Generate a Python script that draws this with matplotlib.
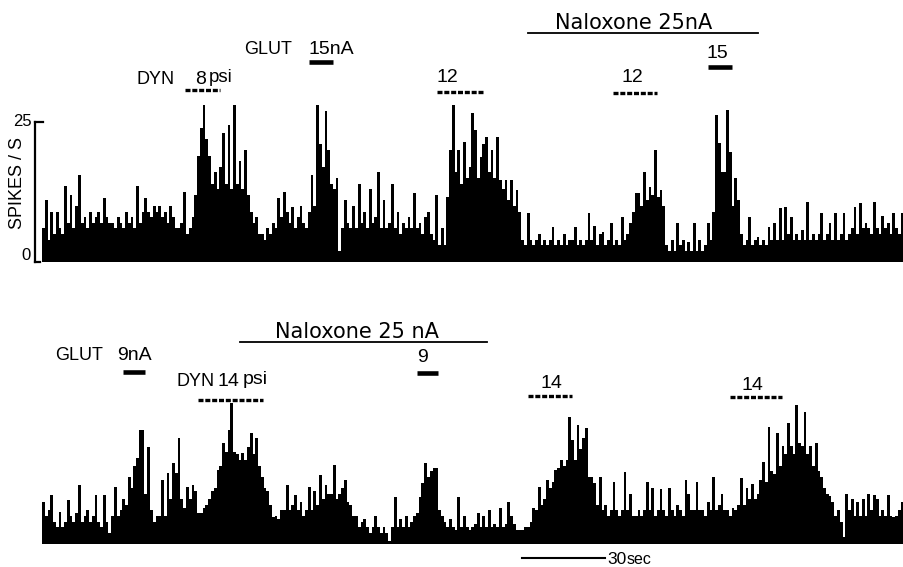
import numpy as np
import matplotlib
matplotlib.use("Agg")
import matplotlib.pyplot as plt

# ---------------- data (spikes/s, 1-s bins) ----------------
top_rate = [
    6, 11, 4, 9, 5, 9, 6,
    5, 13.5, 7, 12, 6, 10, 15.5,
    7, 8, 6, 9, 7, 8, 9, 7, 11.5, 8, 7,
    7, 6, 8, 7, 6, 9, 7, 8, 6, 13.5, 7,
    9, 11.5, 9, 8, 10, 9, 10, 8, 9, 7, 10, 8, 6,
    6, 7, 12.5, 5, 6, 8,
    12, 19, 24, 28, 22, 19, 14, 16,
    13, 17, 23, 14, 24.5, 13, 28, 14, 18,
    13, 20, 12, 9, 7, 8, 5,
    5, 4, 6, 5, 7, 6, 11.5, 8, 12.5, 9, 7, 9.8, 6, 8, 10,
    7, 6, 9, 15.5, 10, 28, 21, 17, 27, 20, 14, 13, 15, 2,
    6, 11, 7, 6, 10, 6, 14, 7, 9, 6, 13, 7, 8, 16, 6,
    11, 6, 7, 14, 6, 9, 5, 7, 6, 8, 6, 12.3, 6, 7, 5, 8, 9, 5,
    4, 12, 3, 6, 3,
    11.6, 20, 28, 16, 20, 14, 21.4, 15, 17, 26.6, 23.6, 15, 18.8, 21, 22.3,
    16, 20, 15, 22.3, 14.6, 13, 14.6, 11, 14.6, 10, 12.9, 9,
    4, 3, 8.7, 4, 3, 4, 5, 3, 4, 3, 4, 6.3, 3, 4, 3, 5, 3, 4, 4, 6.3, 3, 4,
    3, 4, 8.7, 4, 6.5, 3, 5,
    5.4, 3, 4, 7, 3, 4, 3, 8, 4,
    5, 7, 9, 12.3, 12.3, 10, 16, 11, 13.4, 12, 20, 11.6, 12.9, 10, 3,
    2, 4, 2, 7, 3, 4, 2, 3.5, 2, 7, 2, 4, 2, 3,
    7, 4, 9, 26.2, 21.2, 16, 16, 27.1, 19.7, 10, 15, 11, 5, 3,
    4, 8, 3, 4, 4.5, 3, 4, 3, 6.3, 4, 7, 4, 9.6, 4, 9.8, 5, 8, 4, 5, 4,
    5.7, 4, 10.7, 4, 5, 4, 5, 8.7, 4, 5, 7, 4, 8.7, 4, 5, 8.7, 4, 5, 6,
    9.8, 5, 10.5, 6, 7, 6, 5, 10.7, 6, 5, 8.3, 6, 7, 5, 8.7, 6, 5, 8.7,
]

bottom_rate = [
    7.5, 5, 6, 8.8, 4, 3, 5.7, 3,
    4, 7.9, 5, 4, 5.5, 10.5, 4, 5, 6, 4, 5, 8.8, 4, 3,
    8.8, 4, 2, 5, 10.2, 5, 6, 8, 7,
    12, 10, 14, 15.4, 20.4, 20.4, 9, 17.3, 6, 4, 5, 5,
    11.4, 5, 12.7, 8, 14.5, 12.7, 19, 8, 6.5, 10.2, 8, 10.5, 9.5, 5.5,
    5.5, 6.5, 7, 8, 9.5, 10, 13.2, 14, 18, 16.5, 20.4, 25.2, 16.5, 16, 15,
    16.2, 15, 17.3, 19.8, 16, 19, 14, 12, 10,
    9.5, 7, 4.8, 5, 4.5, 6, 6, 10.5, 6, 7, 8.8, 6, 7.5,
    5, 6, 10.2, 6, 9.5, 7, 12.3,
    8, 10.5, 9, 9, 14.1, 8, 9, 10, 11.4, 7.5, 7, 5, 5, 3,
    4, 4.5, 3, 2, 3, 5, 3, 2, 3, 2, 0.5,
    3, 8.4, 3, 4.5, 3, 5, 3, 4, 5, 5.5, 8.4,
    10.9, 14.5, 12, 13, 13.6, 13.6, 6, 5, 4,
    3, 4.5, 3, 2.5, 8.4, 3, 5, 3, 2.5, 3, 3.5, 5.5, 3, 5, 3, 6, 3, 3.5, 3,
    6.5, 3, 3.5, 7.5, 5, 3.5, 2.5, 2.5,
    2.5, 3, 3, 4, 6.5, 6, 10.2, 7, 8, 11.4, 10, 11, 13.2, 13.6, 15, 14, 15,
    22.7, 18.5, 15, 21.3, 17, 19, 20.7, 12,
    12, 10.9, 7, 12, 6, 7, 5, 6, 11, 6, 5, 6, 12.9, 6, 9, 5, 5, 6,
    5, 6, 11, 6, 10, 5, 6, 9.8, 6, 5, 10, 6, 5, 7, 6, 5, 11.4, 9, 6, 6, 11, 6,
    6, 5, 7.5, 6, 12, 6, 7, 9, 6, 6, 5, 6.5, 6, 7, 11.7, 7, 10, 8, 10.7, 8, 9, 11.4,
    14.6, 11, 20.9, 13, 12.5, 19.8, 14, 17.5, 16, 21.6, 17.5, 16, 24.8, 18,
    17.5, 23.6, 16, 17.5, 14, 18, 13, 12, 10, 9, 8.5,
    7.5, 5, 6, 4, 1.2, 9, 6, 8, 5, 7.5, 5, 8, 5, 9, 6, 8.8, 8, 5, 6, 5, 8.8,
    5, 4.8, 5, 6, 7.5,
]

# drug application periods (seconds from trace start)
top_dyn = [(51.6, 64.3), (142.6, 159.2), (206.1, 222.0)]      # dotted bars
top_glut = [(96.4, 105.1), (240.4, 249.1)]                     # solid bars
top_naloxone = (175.5, 258.5)
bottom_glut = [(29.2, 37.2), (135.4, 143.0)]
bottom_dyn = [(56.3, 79.8), (175.5, 191.3), (248.4, 267.1)]
bottom_naloxone = (71.5, 160.6)
scale_sec = 30
scale_start = 173.3

# ---------------- figure ----------------
W, H = 904, 567
fig = plt.figure(figsize=(W / 100, H / 100), dpi=100)
T_END = 311.2

ax_top = fig.add_axes([42 / W, (H - 262) / H, 862 / W, 168 / H])
ax_bot = fig.add_axes([42 / W, (H - 544) / H, 862 / W, 168 / H])

for ax, rate in ((ax_top, top_rate), (ax_bot, bottom_rate)):
    vals = np.asarray(rate, dtype=float)
    edges = np.arange(len(vals) + 1, dtype=float)
    ax.stairs(vals, edges, fill=True, color="black", baseline=-0.3, lw=0)
    ax.set_xlim(0, T_END)
    ax.set_ylim(0, 30)
    ax.axis("off")

dot_style = dict(color="black", lw=2.4, linestyle=(0, (1.5, 0.55)), clip_on=False,
                 solid_capstyle="butt", dash_capstyle="butt")
solid_style = dict(color="black", lw=3.3, clip_on=False, solid_capstyle="butt")

# top annotations
for (a, b), y in zip(top_dyn, [30.7, 30.4, 30.2]):
    ax_top.plot([a, b], [y, y], **dot_style)
for (a, b), y in zip(top_glut, [35.7, 34.8]):
    ax_top.plot([a, b], [y, y], **solid_style)
ax_top.plot(list(top_naloxone), [40.9, 40.9], color="black", lw=1.3, clip_on=False)

# bottom annotations
for (a, b), y in zip(bottom_dyn, [25.7, 26.4, 26.25]):
    ax_bot.plot([a, b], [y, y], **dot_style)
for (a, b), y in zip(bottom_glut, [30.7, 30.5]):
    ax_bot.plot([a, b], [y, y], **solid_style)
ax_bot.plot(list(bottom_naloxone), [36.1, 36.1], color="black", lw=1.3, clip_on=False)
ax_bot.plot([scale_start, scale_start + scale_sec], [-2.5, -2.5], color="black",
            lw=1.5, clip_on=False)

# y-axis bracket (top trace)
ax_top.plot([-2.5, -2.5], [0, 25], color="black", lw=1.6, clip_on=False)
ax_top.plot([-2.5, 0.2], [25, 25], color="black", lw=1.6, clip_on=False)
ax_top.plot([-2.5, -0.8], [0, 0], color="black", lw=1.6, clip_on=False)

FONT = ["Liberation Sans", "DejaVu Sans"]


def ftext(x, y, s, size=13, ha="left", family=FONT, **kw):
    fig.text(x / W, 1 - y / H, s, fontsize=size, ha=ha, va="center",
             family=family, **kw)


ftext(32, 122, "25", 12, ha="right")
ftext(31, 256, "0", 12, ha="right")
ftext(18, 183, "SPIKES / S", 13, ha="center", rotation=90)

# top labels
ftext(137, 80, "DYN")
ftext(195, 80, "8", 14)
ftext(209, 78, "psi", 13.5)
ftext(244, 50, "GLUT")
ftext(309, 50, "15nA", 14)
ftext(437, 78, "12", 14)
ftext(555, 23, "Naloxone 25nA", 15, family=["DejaVu Sans"])
ftext(707, 53, "15", 14)
ftext(622, 78, "12", 14)

# bottom labels
ftext(275, 332, "Naloxone 25 nA", 15, family=["DejaVu Sans"])
ftext(55, 355, "GLUT", 13)
ftext(117, 355, "9nA", 14)
ftext(417, 357, "9", 14)
ftext(177, 382, "DYN", 13)
ftext(218, 382, "14", 14)
ftext(243, 380, "psi", 14)
ftext(541, 383, "14", 14)
ftext(742, 385, "14", 14)
ftext(607, 559, "30", 12.5)
ftext(627, 560, "sec", 11.5)

fig.savefig("out.png", dpi=100, facecolor="white")
